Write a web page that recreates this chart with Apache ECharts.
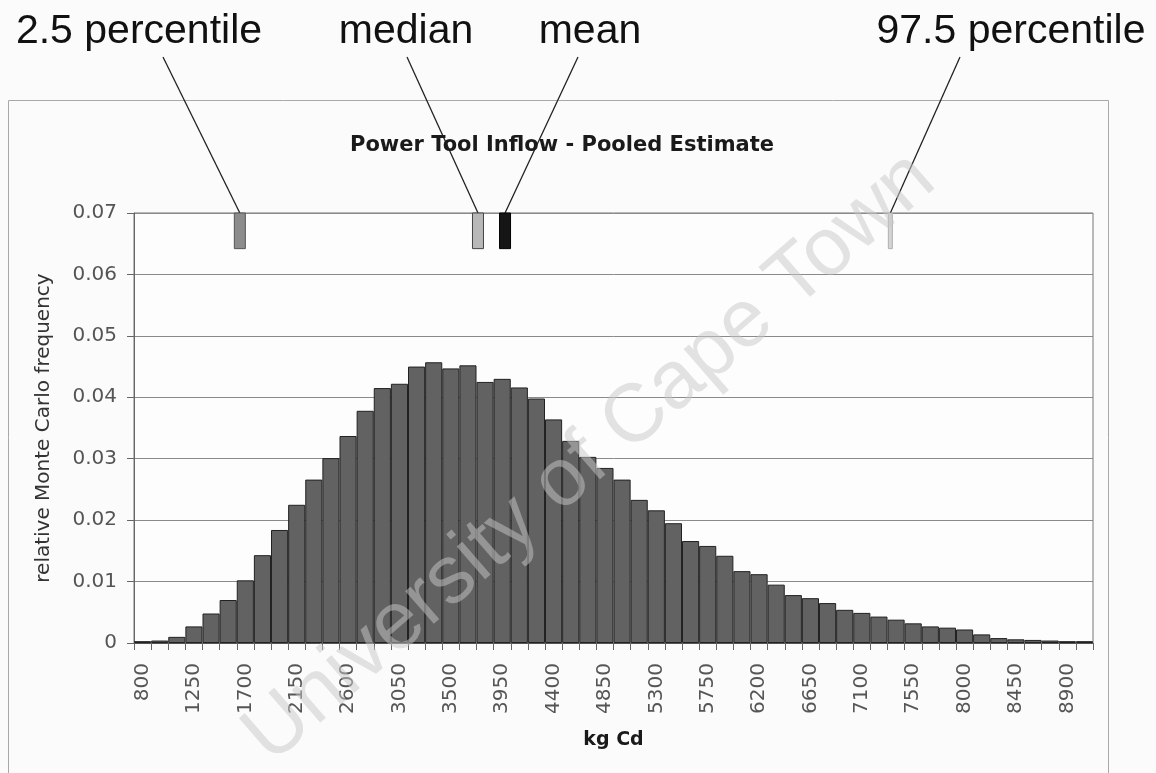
<!DOCTYPE html>
<html>
<head>
<meta charset="utf-8">
<script src="https://cdn.jsdelivr.net/npm/echarts@6/dist/echarts.min.js"></script>
<style>
html,body{margin:0;padding:0;background:#fbfbfb;}
#chart{width:1156px;height:773px;}
</style>
</head>
<body>
<div id="chart"></div>
<script>
// ---- data ----
const categories = ['800','950','1100','1250','1400','1550','1700','1850','2000','2150','2300','2450','2600','2750','2900','3050','3200','3350','3500','3650','3800','3950','4100','4250','4400','4550','4700','4850','5000','5150','5300','5450','5600','5750','5900','6050','6200','6350','6500','6650','6800','6950','7100','7250','7400','7550','7700','7850','8000','8150','8300','8450','8600','8750','8900','9050'];
const frequency = [0.0003,0.0004,0.0010,0.0027,0.0048,0.0070,0.0102,0.0143,0.0184,0.0225,0.0266,0.0301,0.0337,0.0378,0.0415,0.0422,0.0450,0.0457,0.0447,0.0452,0.0425,0.0430,0.0416,0.0398,0.0364,0.0329,0.0303,0.0285,0.0266,0.0233,0.0216,0.0195,0.0166,0.0158,0.0142,0.0117,0.0112,0.0095,0.0078,0.0073,0.0065,0.0054,0.0049,0.0043,0.0038,0.0032,0.0027,0.0025,0.0022,0.0014,0.0008,0.0006,0.0005,0.0004,0.0003,0.0003];
const markerNames = ['2.5 percentile','median','mean','97.5 percentile'];
const markerValues = [1652, 3738, 3975, 7350];
const yTicks = [0, 0.01, 0.02, 0.03, 0.04, 0.05, 0.06, 0.07];

// ---- styling / layout (not data) ----
const BIN = 150;
const markerTop = 0.07, markerBottom = 0.0642;
const markerStyle = [
  {w: 11, fill: '#8c8c8c', stroke: '#555'},
  {w: 11, fill: '#b8b8b8', stroke: '#444'},
  {w: 11, fill: '#151515', stroke: '#000'},
  {w: 4,  fill: '#d4d4d4', stroke: '#b0b0b0'}
];
const labelCenterX = [139, 406, 590, 1011];
const lineTopX = [163, 407, 578, 960];
const lineTopY = 57;

const chart = echarts.init(document.getElementById('chart'));
const FONT = 'DejaVu Sans';

const graphics = [
  {type:'rect', z:-10, shape:{x:8.5, y:100.5, width:1100, height:720}, style:{fill:'#fbfbfb', stroke:'#a8a8a8', lineWidth:1}, silent:true}
];
markerNames.forEach((n, i) => {
  graphics.push({type:'text', x: labelCenterX[i], y: 11, z: 10,
    style:{text:n, fill:'#111', font:'41px "Liberation Sans", Arial, sans-serif', textAlign:'center', textVerticalAlign:'top'}});
});
graphics.push({type:'text', x: 590, y: 458, rotation: 41*Math.PI/180, z: 100, silent:true,
  style:{text:'University of Cape Town', fill:'rgba(200,200,200,0.5)', font:'82px "Liberation Sans", Arial, sans-serif', textAlign:'center', textVerticalAlign:'middle'}});

chart.setOption({
  animation: false,
  backgroundColor: 'transparent',
  title: {
    text: 'Power Tool Inflow - Pooled Estimate',
    left: 557, top: 130, textAlign: 'center',
    textStyle: {fontFamily: FONT, fontWeight: 'bold', fontSize: 21, color: '#1a1a1a'}
  },
  graphic: graphics,
  grid: {left: 134, right: 63, top: 213, bottom: 130, show: true, backgroundColor: '#fdfdfd', borderColor: '#777', borderWidth: 1},
  xAxis: [
    {
      type: 'category', data: categories, boundaryGap: true,
      name: 'kg Cd', nameLocation: 'middle', nameGap: 88,
      nameTextStyle: {fontFamily: FONT, fontWeight: 'bold', fontSize: 19, color: '#1a1a1a'},
      axisLine: {lineStyle: {color: '#555', width: 1}},
      axisTick: {show: true, interval: 0, length: 7, lineStyle: {color: '#666'}},
      axisLabel: {interval: 2, rotate: 90, margin: 20, fontFamily: FONT, fontSize: 20, color: '#555'},
      splitLine: {show: false}
    },
    {
      type: 'value', min: 800 - BIN/2, max: 800 - BIN/2 + categories.length*BIN, show: false
    }
  ],
  yAxis: {
    type: 'value', min: 0, max: 0.07, interval: 0.01,
    name: 'relative Monte Carlo frequency', nameLocation: 'middle', nameGap: 80, nameRotate: 90,
    nameTextStyle: {fontFamily: FONT, fontSize: 20, color: '#333'},
    axisLine: {show: true, lineStyle: {color: '#666', width: 1}},
    axisTick: {show: true, length: 7, lineStyle: {color: '#666'}},
    axisLabel: {margin: 17, fontFamily: FONT, fontSize: 20, color: '#555',
      formatter: v => { const t = yTicks.find(k => Math.abs(k - v) < 1e-9); return t === 0 ? '0' : String(+v.toFixed(2)); }},
    splitLine: {show: true, lineStyle: {color: '#8a8a8a', width: 1}}
  },
  series: [
    {
      type: 'bar', xAxisIndex: 0, data: frequency, barCategoryGap: '0%',
      itemStyle: {color: '#626262', borderColor: '#222', borderWidth: 1}
    },
    {
      type: 'custom', xAxisIndex: 1, clip: false, z: 5,
      data: markerValues.map(v => [v, markerTop, markerBottom]),
      renderItem: function (params, api) {
        const i = params.dataIndex;
        const top = api.coord([api.value(0), api.value(1)]);
        const bot = api.coord([api.value(0), api.value(2)]);
        const s = markerStyle[i];
        return {type: 'group', children: [
          {type: 'line', shape: {x1: top[0], y1: top[1], x2: lineTopX[i], y2: lineTopY},
            style: {stroke: '#222', lineWidth: 1.3}},
          {type: 'rect', shape: {x: top[0] - s.w/2, y: top[1], width: s.w, height: bot[1] - top[1]},
            style: {fill: s.fill, stroke: s.stroke, lineWidth: 1}}
        ]};
      }
    }
  ]
});
</script>
</body>
</html>
